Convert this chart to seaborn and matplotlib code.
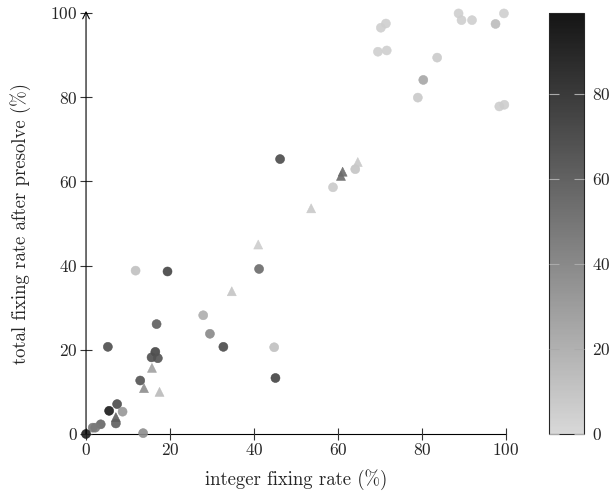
import matplotlib
matplotlib.use("Agg")
import matplotlib.pyplot as plt
import matplotlib.colors as mcolors
import pandas as pd
import seaborn as sns

# circles
circ_x = [70.2, 71.4, 88.7, 89.4, 91.9, 99.5, 97.5, 69.5, 71.6, 83.6, 80.3, 79.0, 98.4, 99.6,
          46.2, 64.1, 58.8, 41.2, 27.9, 29.5, 32.7, 44.8, 45.1, 11.8, 19.4, 16.8,
          16.5, 15.6, 17.1, 12.9, 13.6, 7.4, 5.5, 8.7, 7.1, 3.5, 1.6, 2.2, 0.0, 5.2]
circ_y = [96.5, 97.5, 99.9, 98.3, 98.3, 99.9, 97.4, 90.8, 91.1, 89.4, 84.1, 79.9, 77.8, 78.2,
          65.3, 62.9, 58.6, 39.2, 28.2, 23.8, 20.7, 20.6, 13.3, 38.8, 38.6, 26.1,
          19.5, 18.2, 18.0, 12.7, 0.2, 7.1, 5.5, 5.3, 2.5, 2.3, 1.5, 1.5, 0.0, 20.7]
circ_c = [5, 5, 5, 5, 5, 5, 14, 5, 5, 7, 25, 8, 6, 6,
          72, 10, 7, 55, 22, 40, 72, 12, 75, 12, 75, 62,
          75, 70, 68, 68, 38, 72, 97, 33, 62, 58, 48, 48, 95, 70]

# triangles
tri_x = [61.1, 60.7, 64.7, 53.6, 41.0, 34.7, 15.7, 13.8, 17.5, 7.1]
tri_y = [62.3, 61.3, 64.6, 53.6, 45.0, 33.9, 15.7, 10.9, 10.0, 4.0]
tri_c = [55, 55, 8, 8, 6, 10, 28, 38, 15, 62]

df = pd.concat([
    pd.DataFrame({"x": circ_x, "y": circ_y, "c": circ_c, "kind": "circle"}),
    pd.DataFrame({"x": tri_x, "y": tri_y, "c": tri_c, "kind": "triangle"}),
], ignore_index=True)

sns.set_style("ticks")
plt.rcParams["font.family"] = ["cmr10", "DejaVu Serif"]
plt.rcParams["axes.formatter.use_mathtext"] = True
plt.rcParams["axes.axisbelow"] = False
plt.rcParams["font.size"] = 12

cmap = mcolors.LinearSegmentedColormap.from_list("gr", ["#d8d8d8", "#151515"])
norm = mcolors.Normalize(vmin=0, vmax=99)

fig = plt.figure(figsize=(6.11, 4.94), dpi=100)
ax = fig.add_axes([0.1408, 0.1215, 0.6874, 0.8522])

sns.scatterplot(data=df, x="x", y="y", hue="c", style="kind",
                markers={"circle": "o", "triangle": "^"},
                palette=cmap, hue_norm=norm, s=42, linewidth=0.4, alpha=0.9,
                legend=False, clip_on=False, zorder=3, ax=ax)
for coll in ax.collections:
    coll.set_edgecolor("face")

ax.set_xlim(0, 100)
ax.set_ylim(0, 100)
ax.set_xticks([0, 20, 40, 60, 80, 100])
ax.set_yticks([0, 20, 40, 60, 80, 100])
ax.tick_params(direction="inout", length=8, width=0.8, color="#333333",
               bottom=True, left=True, labelsize=12.5, pad=2)
ax.set_xlabel("integer fixing rate (%)", fontsize=13.5, labelpad=8)
ax.set_ylabel("total fixing rate after presolve (%)", fontsize=13.5, labelpad=14)
for side in ["top", "right"]:
    ax.spines[side].set_visible(False)
# left axis line is drawn as an arrow below
ax.spines["left"].set_color("none")
ax.spines["bottom"].set_linewidth(0.8)
ax.spines["bottom"].set_color("black")
ax.annotate("", xy=(0, 1.005), xytext=(0, 0), xycoords="axes fraction",
            arrowprops=dict(arrowstyle="->", lw=0.8, color="black",
                            shrinkA=0, shrinkB=0))

cax = fig.add_axes([0.8985, 0.1215, 0.0573, 0.8522])
sm = plt.cm.ScalarMappable(cmap=cmap, norm=norm)
cbar = fig.colorbar(sm, cax=cax)
cbar.set_ticks([0, 20, 40, 60, 80])
cbar.outline.set_linewidth(0.8)
cax.set_axisbelow(False)
cax.tick_params(direction="in", length=7, width=0.8, color="#aaaaaa",
                left=True, right=True, labelleft=False, labelright=True,
                labelsize=12.5, pad=6)

fig.savefig("out.png", dpi=100)
